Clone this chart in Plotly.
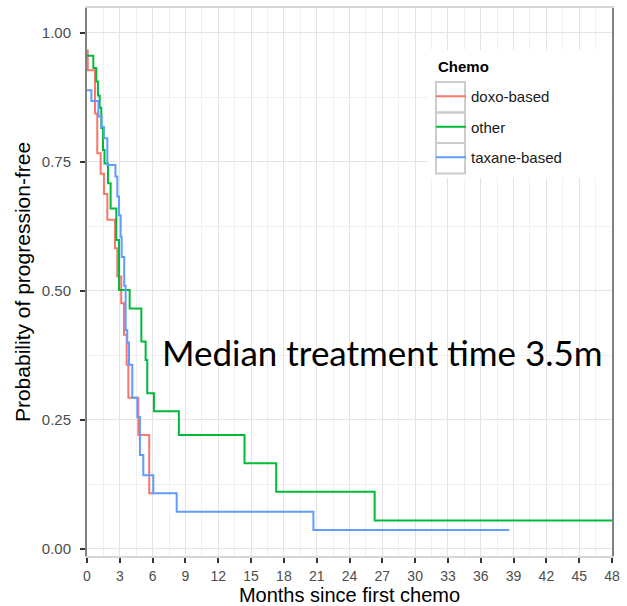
import plotly.graph_objects as go

# ---- data ----
series_names = ["doxo-based", "other", "taxane-based"]
series_colors = ["#F8766D", "#00BA38", "#619CFF"]
legend_title = "Chemo"

doxo_t = [0, 0.07, 0.73, 0.94, 1.25, 1.55, 1.86, 2.56, 2.77, 3.13, 3.38, 3.63, 3.78, 4.69, 5.69, 6.06]
doxo_s = [0.966, 0.928, 0.844, 0.767, 0.727, 0.688, 0.638, 0.583, 0.528, 0.476, 0.415, 0.357, 0.293, 0.221, 0.108, 0.108]

other_t = [0, 0.58, 0.85, 1.0, 1.16, 1.31, 1.46, 1.6, 1.92, 2.16, 2.68, 2.93, 3.9, 4.97, 5.36, 5.51,
           6.12, 8.4, 14.4, 17.3, 26.3, 48]
other_s = [0.956, 0.932, 0.906, 0.879, 0.855, 0.816, 0.773, 0.747, 0.709, 0.66, 0.599, 0.502, 0.466,
           0.402, 0.366, 0.302, 0.267, 0.221, 0.166, 0.111, 0.055, 0.055]

taxane_t = [0, 0.4, 1.04, 1.34, 1.55, 1.86, 2.6, 2.77, 2.93, 3.08, 3.17, 3.4, 3.53, 3.68, 3.84, 4.14,
            4.6, 4.84, 5.15, 6.06, 8.2, 20.7, 38.6]
taxane_s = [0.889, 0.868, 0.838, 0.818, 0.796, 0.744, 0.722, 0.683, 0.647, 0.605, 0.566, 0.51, 0.424,
            0.40, 0.357, 0.293, 0.256, 0.182, 0.143, 0.108, 0.072, 0.037, 0.037]

x_ticks = list(range(0, 49, 3))
y_ticks = [0, 0.25, 0.5, 0.75, 1.0]
annotation_text = "Median treatment time 3.5m"

# ---- figure ----
fig = go.Figure()
for name, color, t, s in zip(series_names, series_colors,
                             [doxo_t, other_t, taxane_t], [doxo_s, other_s, taxane_s]):
    fig.add_trace(go.Scatter(x=t, y=s, mode="lines", name=name, legendgroup=name,
                             line=dict(color=color, width=2, shape="hv")))

W, H = 627, 606
L, R, T, B = 87, 15, 8, 50
pw, ph = W - L - R, H - T - B


def px2paper(x, y):
    return (x - L) / pw, (H - B - y) / ph


shapes = []
# white legend background
x0, y0 = px2paper(428, 50)
x1, y1 = px2paper(611, 178)
shapes.append(dict(type="rect", xref="paper", yref="paper", x0=x0, y0=y1, x1=x1, y1=y0,
                   fillcolor="white", line=dict(width=0), layer="above"))
# key boxes
for top in [82, 112.5, 143]:
    a, b = px2paper(436, top)
    c, d = px2paper(465, top + 30.5)
    shapes.append(dict(type="rect", xref="paper", yref="paper", x0=a, y0=d, x1=c, y1=b,
                       fillcolor="rgba(0,0,0,0)", line=dict(color="#CCCCCC", width=2), layer="above"))

lx, ly = px2paper(431, 80)
tx, ty = px2paper(436, 66)
fig.update_layout(
    width=W, height=H,
    margin=dict(l=L, r=R, t=T, b=B, autoexpand=False),
    paper_bgcolor="white", plot_bgcolor="white",
    font=dict(family="Liberation Sans, Arial, sans-serif", color="#000000"),
    shapes=shapes,
    legend=dict(x=lx, y=ly, xanchor="left", yanchor="top", bgcolor="rgba(0,0,0,0)",
                font=dict(size=15, color="#1A1A1A"), itemwidth=30, tracegroupgap=8),
    xaxis=dict(range=[0, 48], tickvals=x_ticks, ticktext=[str(v) for v in x_ticks], automargin=False,
               showgrid=True, gridcolor="#E4E4E4", gridwidth=1.3,
               minor=dict(dtick=1.5, tick0=0, showgrid=True, gridcolor="#F0F0F0", gridwidth=1),
               ticks="outside", ticklen=5, tickwidth=1.5, tickcolor="#333333",
               tickfont=dict(size=14, color="#4D4D4D"), ticklabelstandoff=1,
               showline=True, mirror=True, linecolor="#D6D6D6", linewidth=1.5, zeroline=False,
               title=dict(text="Months since first chemo", font=dict(size=20, color="#000000"), standoff=3)),
    yaxis=dict(range=[-0.0136, 1.0484], tickvals=y_ticks, ticktext=["%.2f" % v for v in y_ticks],
               automargin=False,
               showgrid=True, gridcolor="#E4E4E4", gridwidth=1.3,
               minor=dict(dtick=0.125, tick0=0, showgrid=True, gridcolor="#F0F0F0", gridwidth=1),
               ticks="outside", ticklen=5, tickwidth=1.5, tickcolor="#333333",
               tickfont=dict(size=15, color="#4D4D4D"), ticklabelstandoff=6,
               showline=True, mirror=True, linecolor="#808080", linewidth=2, zeroline=False,
               title=dict(text="Probability of progression-free", font=dict(size=21, color="#000000"),
                          standoff=5)),
    annotations=[
        dict(x=6.67, y=0.382, xref="x", yref="y", text=annotation_text, showarrow=False,
             xanchor="left", yanchor="middle",
             font=dict(family="Lato, Noto Sans, sans-serif", size=35, color="#000000")),
        dict(x=tx, y=ty, xref="paper", yref="paper", text="<b>" + legend_title + "</b>", showarrow=False,
             xanchor="left", yanchor="middle", font=dict(size=15, color="#000000")),
    ],
)

fig.write_html("out.html", config={"displayModeBar": False},
               post_script="document.body.style.margin='0';")
